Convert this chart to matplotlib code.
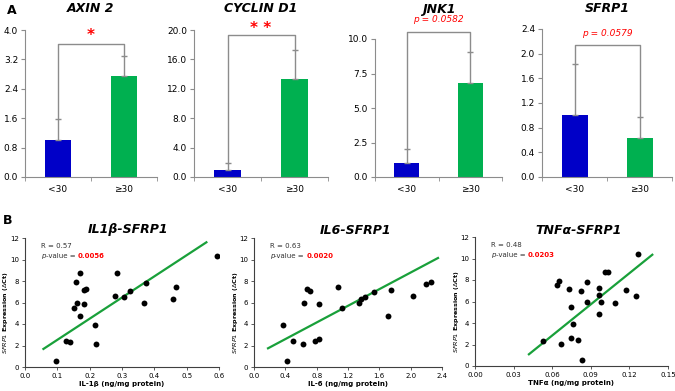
import matplotlib
matplotlib.use("Agg")
import matplotlib.pyplot as plt
import numpy as np

plt.rcParams['font.family'] = ['DejaVu Sans']
plt.rcParams['mathtext.fontset'] = 'dejavusans'

# ---------------- Panel A data ----------------
groups = ["<30", "\u226530"]
genes = ["AXIN 2", "CYCLIN D1", "JNK1", "SFRP1"]
axin2_mean = [1.0, 2.75]
axin2_err = [0.57, 0.53]
cyclin_mean = [1.0, 13.4]
cyclin_err = [0.9, 3.9]
jnk1_mean = [1.0, 6.8]
jnk1_err = [1.0, 2.25]
sfrp1_mean = [1.0, 0.63]
sfrp1_err = [0.84, 0.34]
ylims_A = [4.0, 20.0, 10.0, 2.4]
ysteps_A = [0.8, 4.0, 2.5, 0.4]
bracket_h = [3.62, 19.3, 10.5, 2.14]
sig_labels = ["*", "* *", "p = 0.0582", "p = 0.0579"]
sig_y = [3.85, 20.2, 11.4, 2.33]

# ---------------- Panel B data ----------------
il1b_x = [0.096, 0.127, 0.139, 0.151, 0.157, 0.160, 0.170, 0.171, 0.182, 0.183, 0.188,
          0.215, 0.221, 0.277, 0.286, 0.307, 0.326, 0.367, 0.374, 0.458, 0.466, 0.594]
il1b_y = [0.53, 2.43, 2.37, 5.52, 7.92, 5.98, 8.79, 4.77, 5.86, 7.17, 7.29,
          3.90, 2.12, 6.64, 8.76, 6.55, 7.11, 5.98, 7.79, 6.33, 7.48, 10.35]
il1b_line_x = [0.057, 0.561]
il1b_line_y = [1.68, 11.6]

il6_x = [0.370, 0.421, 0.502, 0.630, 0.634, 0.677, 0.711, 0.774, 0.826, 0.834, 1.072,
         1.128, 1.336, 1.370, 1.413, 1.528, 1.706, 1.745, 2.026, 2.191, 2.260]
il6_y = [3.88, 0.56, 2.42, 2.11, 5.98, 7.29, 7.07, 2.39, 5.86, 2.57, 7.44,
         5.49, 5.95, 6.36, 6.51, 6.95, 4.74, 7.13, 6.60, 7.75, 7.91]
il6_line_x = [0.179, 2.349]
il6_line_y = [1.74, 10.14]

tnf_x = [0.0530, 0.0634, 0.0654, 0.0672, 0.0727, 0.0745, 0.0745, 0.0763, 0.0799, 0.0820,
         0.0835, 0.0872, 0.0872, 0.0962, 0.0962, 0.0962, 0.0980, 0.1011, 0.1034, 0.1089,
         0.1177, 0.1249, 0.1270]
tnf_y = [2.37, 7.54, 7.92, 2.09, 7.17, 5.52, 2.56, 3.87, 2.43, 6.95,
         0.53, 7.79, 5.98, 7.29, 6.64, 4.80, 5.95, 8.76, 8.76, 5.86,
         7.11, 6.55, 10.38]
tnf_line_x = [0.0419, 0.1378]
tnf_line_y = [1.09, 10.35]

titles_B = ["IL1\u03b2-SFRP1", "IL6-SFRP1", "TNF\u03b1-SFRP1"]
xlabels_B = ["IL-1\u03b2 (ng/mg protein)", "IL-6 (ng/mg protein)", "TNF\u03b1 (ng/mg protein)"]
r_values = ["0.57", "0.63", "0.48"]
p_values = ["0.0056", "0.0020", "0.0203"]
xticks_B = [[0.0, 0.1, 0.2, 0.3, 0.4, 0.5, 0.6],
            [0.0, 0.4, 0.8, 1.2, 1.6, 2.0, 2.4],
            [0.00, 0.03, 0.06, 0.09, 0.12, 0.15]]
xfmt_B = ["{:.1f}", "{:.1f}", "{:.2f}"]

W, H = 675, 391
fig = plt.figure(figsize=(W / 100, H / 100), dpi=100)


def rect(x0, x1, ytop, ybot):
    return [x0 / W, 1 - ybot / H, (x1 - x0) / W, (ybot - ytop) / H]


BLUE = "#0000C8"
GREEN = "#00B050"
GRAY = "#8C8C8C"

A_rects = [rect(25, 157, 30, 177), rect(194, 328, 30, 177),
           rect(375, 502, 39, 177), rect(542, 672, 29, 177)]
means = [axin2_mean, cyclin_mean, jnk1_mean, sfrp1_mean]
errs = [axin2_err, cyclin_err, jnk1_err, sfrp1_err]

for i in range(4):
    ax = fig.add_axes(A_rects[i])
    xs = np.arange(len(groups))
    ax.bar(xs, means[i], width=0.4, color=[BLUE, GREEN], zorder=2)
    ax.errorbar(xs, means[i], yerr=[np.zeros(2), errs[i]], fmt='none',
                ecolor=GRAY, elinewidth=1.0, capsize=2, capthick=1.0, zorder=3)
    ax.set_xlim(-0.5, 1.5)
    ax.set_ylim(0, ylims_A[i])
    ticks = np.arange(0, ylims_A[i] + 1e-9, ysteps_A[i])
    ax.set_yticks(ticks)
    ax.set_yticklabels(["{:.1f}".format(t) for t in ticks], fontsize=6.5)
    ax.set_xticks(xs)
    ax.set_xticklabels(groups, fontsize=6.5)
    ax.tick_params(axis='x', length=0, pad=6)
    ax.set_xticks([-0.5, 0.5, 1.5], minor=True)
    ax.tick_params(axis='x', which='minor', length=3, color=GRAY, direction='out')
    ax.tick_params(axis='y', length=3, color=GRAY, direction='out', pad=2)
    for s in ['top', 'right']:
        ax.spines[s].set_visible(False)
    for s in ['left', 'bottom']:
        ax.spines[s].set_color(GRAY)
    # bracket
    tops = [m + e for m, e in zip(means[i], errs[i])]
    ax.plot([0, 0, 1, 1], [tops[0], bracket_h[i], bracket_h[i], tops[1]],
            color=GRAY, lw=1.0, clip_on=False, zorder=1)
    if i < 2:
        ax.text(0.5, sig_y[i], sig_labels[i], color='red', fontsize=11,
                fontweight='bold', ha='center', va='center', clip_on=False)
    else:
        ax.text(0.5, sig_y[i], sig_labels[i], color='red', fontsize=6.5,
                style='italic', ha='center', va='center', clip_on=False)
    fig.text((A_rects[i][0] + A_rects[i][2] / 2), 1 - 9 / H, genes[i],
             fontsize=9, fontweight='bold', style='italic', ha='center', va='center')

fig.text(12 / W, 1 - 11 / H, "A", fontsize=9, fontweight='bold', ha='center', va='center')
fig.text(8 / W, 1 - 220 / H, "B", fontsize=9, fontweight='bold', ha='center', va='center')

# ---------------- Panel B ----------------
B_rects = [rect(25, 219, 238, 367), rect(254, 442, 238, 367), rect(475, 668, 237, 366)]
xs_B = [il1b_x, il6_x, tnf_x]
ys_B = [il1b_y, il6_y, tnf_y]
lx_B = [il1b_line_x, il6_line_x, tnf_line_x]
ly_B = [il1b_line_y, il6_line_y, tnf_line_y]
title_dx = [6, 8, 7]

for i in range(3):
    ax = fig.add_axes(B_rects[i])
    ax.scatter(xs_B[i], ys_B[i], s=18, color='black', zorder=3, linewidths=0)
    ax.plot(lx_B[i], ly_B[i], color="#19A03A", lw=1.6, zorder=2)
    xt = xticks_B[i]
    ax.set_xlim(xt[0], xt[-1])
    ax.set_ylim(0, 12)
    ax.set_xticks(xt)
    ax.set_xticklabels([xfmt_B[i].format(t) for t in xt], fontsize=5)
    ax.set_yticks(np.arange(0, 13, 2))
    ax.set_yticklabels([str(v) for v in range(0, 13, 2)], fontsize=5)
    ax.tick_params(length=2.5, width=0.6, direction='out', pad=2, color='#404040')
    for s in ['top', 'right']:
        ax.spines[s].set_visible(False)
    for s in ['left', 'bottom']:
        ax.spines[s].set_color('#404040')
        ax.spines[s].set_linewidth(0.8)
    ax.set_xlabel(xlabels_B[i], fontsize=5, fontweight='bold', labelpad=1.5)
    ax.set_ylabel(r"$\it{SFRP1}$ Expression ($\Delta$Ct)", fontsize=4.6,
                  fontweight='bold', labelpad=1)
    ax.yaxis.set_label_coords(-0.075, 0.42)
    cx = B_rects[i][0] + B_rects[i][2] / 2 + title_dx[i] / W
    fig.text(cx, 1 - 230 / H, titles_B[i], fontsize=9, fontweight='bold',
             style='italic', ha='center', va='center')
    t1 = ax.text(0.085, 0.94, "R = " + r_values[i], transform=ax.transAxes,
                 fontsize=5, color='#333333', va='center', ha='left')
    t2 = ax.text(0.085, 0.86, "p", transform=ax.transAxes, fontsize=5,
                 style='italic', color='#333333', va='center', ha='left')
    t3 = ax.annotate("-value = ", xy=(1, 0), xycoords=t2, va='bottom', ha='left',
                     fontsize=5, color='#333333')
    ax.annotate(p_values[i], xy=(1, 0), xycoords=t3, va='bottom', ha='left',
                fontsize=5, color='red', fontweight='bold')

fig.savefig("out.png", dpi=100)
